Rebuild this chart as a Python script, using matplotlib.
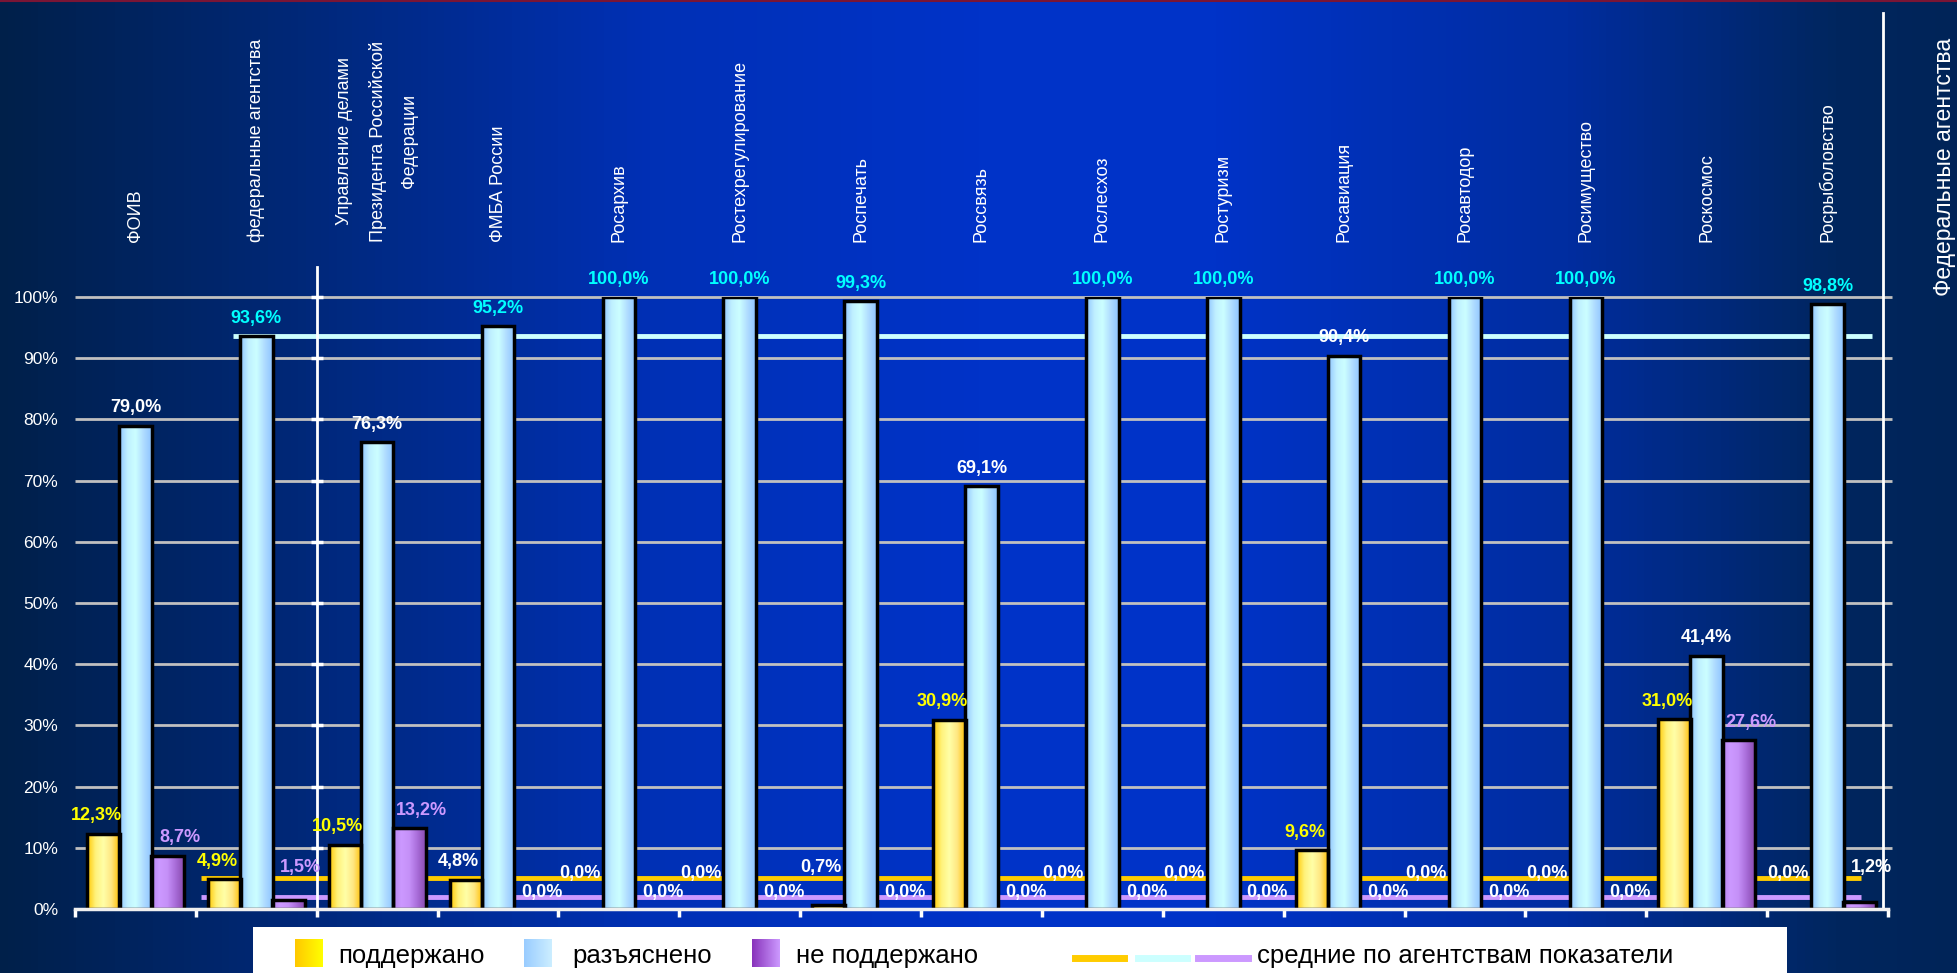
import numpy as np
import matplotlib.pyplot as plt
from matplotlib.colors import LinearSegmentedColormap
from matplotlib.lines import Line2D
from matplotlib.patches import Rectangle

plt.rcParams['font.family'] = ['Liberation Sans', 'DejaVu Sans']

categories = ["ФОИВ", "федеральные агентства",
              "Управление делами\nПрезидента Российской\nФедерации",
              "ФМБА России", "Росархив", "Ростехрегулирование", "Роспечать",
              "Россвязь", "Рослесхоз", "Ростуризм", "Росавиация", "Росавтодор",
              "Росимущество", "Роскосмос", "Росрыболовство"]
supported = [12.3, 4.9, 10.5, 4.8, 0.0, 0.0, 0.7, 30.9, 0.0, 0.0, 9.6, 0.0, 0.0, 31.0, 0.0]
explained = [79.0, 93.6, 76.3, 95.2, 100.0, 100.0, 99.3, 69.1, 100.0, 100.0, 90.4, 100.0, 100.0, 41.4, 98.8]
rejected = [8.7, 1.5, 13.2, 0.0, 0.0, 0.0, 0.0, 0.0, 0.0, 0.0, 0.0, 0.0, 0.0, 27.6, 1.2]
# levels of the "average over agencies" lines as drawn
avg_supported = 5.1
avg_explained = 93.7
avg_rejected = 1.9
yticks = [0, 10, 20, 30, 40, 50, 60, 70, 80, 90, 100]
legend_names = ["поддержано", "разъяснено", "не поддержано", "средние по агентствам показатели"]
side_title = "Федеральные агентства"

W, H = 1958, 973
fig = plt.figure(figsize=(W / 100, H / 100), dpi=100)

# background gradient
bg = fig.add_axes([0, 0, 1, 1], zorder=-10)
bg_cmap = LinearSegmentedColormap.from_list("bg", [
    (0.0, "#00204A"), (0.15, "#002878"), (0.33, "#0030B5"), (0.5, "#0033C8"),
    (0.62, "#0033C8"), (0.8, "#002DA0"), (0.94, "#00265E"), (1.0, "#002458")])
bg.imshow(np.linspace(0, 1, 512).reshape(1, -1), cmap=bg_cmap, aspect="auto",
          extent=(0, 1, 0, 1))
bg.set_xlim(0, 1)
bg.set_ylim(0, 1)
bg.set_axis_off()
bg.plot([0, 1], [0.999, 0.999], color="#7A1535", lw=1.5)
# legend box
bg.add_patch(Rectangle((253 / W, 0), (1787 - 253) / W, (973 - 927) / H,
                       facecolor="white", edgecolor="none", zorder=5))

ax = fig.add_axes([75 / W, 1 - 909 / H, (1888 - 75) / W, (909 - 297) / H])
ax.set_facecolor("none")

cm_y = LinearSegmentedColormap.from_list("y", ["#FFC800", "#FFF27A", "#FFFFA8", "#FFE680", "#FFC000"])
cm_b = LinearSegmentedColormap.from_list("b", ["#8EC4FF", "#BFEFFF", "#CCFFFF", "#B0DCFF", "#8EC4FF"])
cm_p = LinearSegmentedColormap.from_list("p", ["#B584F0", "#CC99FF", "#C590F8", "#A86CD8", "#8A4CB0"])
grad = np.linspace(0, 1, 64).reshape(1, -1)

x = np.arange(len(categories))
w = 0.27
off = 0.265

series = [
    (supported, -off, cm_y, "#FFFF00", avg_supported, -0.06),
    (explained, 0.0, cm_b, "#00FFFF", avg_explained, 0.0),
    (rejected, off, cm_p, "#CC99FF", avg_rejected, 0.1),
]

for vals, dx, cmap, hl, avg, shift in series:
    lw = [2.5 if v > 0 else 0 for v in vals]
    bars = ax.bar(x + dx, vals, w, facecolor="none", edgecolor="black",
                  linewidth=lw, zorder=4)
    for b in bars:
        if b.get_height() > 0:
            ax.imshow(grad, cmap=cmap, aspect="auto", interpolation="bicubic",
                      extent=(b.get_x(), b.get_x() + b.get_width(), 0, b.get_height()),
                      zorder=3)
    ref = vals[1]
    for i, v in enumerate(vals):
        if v == 0:
            yy = avg
        else:
            yy = max(v + 2.2, 6.0)
        col = hl if v >= ref else "white"
        ax.text(x[i] + dx + shift, yy, f"{v:.1f}%".replace(".", ","), ha="center",
                va="baseline", fontsize=13, fontweight="bold", color=col, zorder=6)

# average lines
ax.hlines(avg_supported, 0.54, 14.28, color="#FFCC00", lw=3.5, zorder=2)
ax.hlines(avg_explained, 0.81, 14.37, color="#CCFFFF", lw=3.5, zorder=2)
ax.hlines(avg_rejected, 0.54, 14.28, color="#CC99FF", lw=3.5, zorder=2)

# grid
ax.hlines(yticks[1:], -0.5, 14.53, color="#C0C0C0", lw=2, zorder=1, clip_on=False)
ax.axvline(1.5, 0, 1.049, color="white", lw=2, clip_on=False, zorder=5)
ax.plot([1.5] * 10, yticks[1:], ls="none", marker="_", ms=9, mew=2.5,
        color="white", clip_on=False, zorder=5)
ax.axvline(14.46, 0, 1.464, color="white", lw=2, clip_on=False, zorder=5)

# category labels
for i, cat in enumerate(categories):
    ax.text(x[i], 109, cat, rotation=90, ha="center", va="bottom", color="white",
            fontsize=13, linespacing=2.1, multialignment="center")

ax.set_xlim(-0.5, 14.5)
ax.set_ylim(0, 100)
ax.set_yticks(yticks)
ax.set_yticklabels([f"{t}%" for t in yticks])
ax.set_xticks(np.arange(-0.5, 15, 1))
ax.set_xticklabels([])
ax.tick_params(axis="y", length=0, pad=12, labelcolor="white", labelsize=12.5)
ax.tick_params(axis="x", direction="out", length=6, width=2.5, color="white")
for s in ["top", "left", "right"]:
    ax.spines[s].set_visible(False)
ax.spines["bottom"].set_color("#F0F0F0")
ax.spines["bottom"].set_linewidth(2.5)
ax.spines["bottom"].set_zorder(5)

fig.text(1945 / W, 1 - 38 / H, side_title, rotation=90, ha="center", va="top",
         color="white", fontsize=16.5)

# legend
leg_cmaps = [
    LinearSegmentedColormap.from_list("ly", ["#FFC800", "#FFFF00"]),
    LinearSegmentedColormap.from_list("lb", ["#99CCFF", "#CCEEFF"]),
    LinearSegmentedColormap.from_list("lp", ["#8833BB", "#CC99FF"]),
]
sq_x = [295, 524, 752]
txt_x = [338, 572, 796]
for cm, sx, tx, name in zip(leg_cmaps, sq_x, txt_x, legend_names[:3]):
    sa = fig.add_axes([sx / W, 1 - 967 / H, 28 / W, 28 / H], zorder=5)
    sa.imshow(grad, cmap=cm, aspect="auto")
    sa.set_axis_off()
    fig.text(tx / W, 1 - 963 / H, name, ha="left", va="baseline", fontsize=18.5, color="black")
for (x0, x1), c in zip([(1075, 1124), (1138, 1187), (1198, 1248)],
                       ["#FFCC00", "#CCFFFF", "#CC99FF"]):
    fig.add_artist(Line2D([x0 / W, x1 / W], [1 - 958 / H] * 2, color=c, lw=5))
fig.text(1257 / W, 1 - 963 / H, legend_names[3], ha="left", va="baseline",
         fontsize=18.5, color="black")

fig.savefig("out.png", dpi=100)
